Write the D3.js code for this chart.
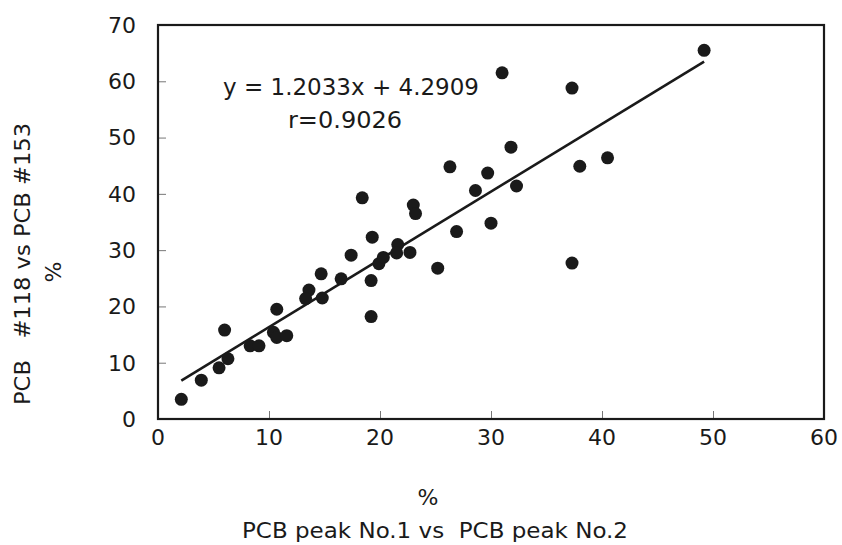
<!DOCTYPE html>
<html>
  <head>
    <title>PCB peak ratios</title>
    <meta charset="utf-8" />
    <style>
      body { margin: 0; background: #fff; }
      text { font-family: "DejaVu Sans", "Noto Sans", sans-serif; fill: #1a1a1a; }
    </style>
  </head>
  <body>
    <div id="plot"></div>

    <script src="https://d3js.org/d3.v7.min.js"></script>
    <script>
      // values
      const xVals = [2.1, 3.9, 5.5, 6.0, 6.3, 8.3, 9.1, 10.7, 10.4, 10.7, 11.6, 13.6, 13.3, 14.7, 14.8,
        16.5, 17.4, 18.4, 19.3, 19.2, 19.2, 19.9, 20.3, 21.6, 21.5, 22.7, 23.0, 23.2, 25.2, 26.9,
        26.3, 28.6, 31.0, 37.3, 49.2, 31.8, 29.7, 32.3, 38.0, 40.5, 30.0, 37.3];
      const yVals = [3.5, 6.9, 9.1, 15.8, 10.7, 13.0, 13.0, 19.5, 15.4, 14.5, 14.8, 22.9, 21.4, 25.8, 21.5,
        24.9, 29.1, 39.3, 32.3, 24.6, 18.2, 27.6, 28.7, 31.0, 29.5, 29.6, 38.0, 36.5, 26.8, 33.3,
        44.8, 40.6, 61.5, 58.8, 65.5, 48.3, 43.7, 41.4, 44.9, 46.4, 34.8, 27.7];
      const xTicks = [0, 10, 20, 30, 40, 50, 60];
      const yTicks = [0, 10, 20, 30, 40, 50, 60, 70];
      const slope = 1.2033, intercept = 4.2909;
      const fitRange = [2.1, 49.2];

      const data = xVals.map((x, i) => ({ x: x, y: yVals[i] }));

      const width = 842, height = 545;
      const margin = { top: 25, right: 18, bottom: 126, left: 158 };

      const svg = d3.select("#plot")
        .append("svg")
        .attr("width", width)
        .attr("height", height);

      const x = d3.scaleLinear()
        .domain([0, 60])
        .range([margin.left, width - margin.right]);

      const y = d3.scaleLinear()
        .domain([0, 70])
        .range([height - margin.bottom, margin.top]);

      // inner tick marks
      const xAxis = svg.append("g")
        .attr("transform", `translate(0, ${height - margin.bottom})`)
        .call(d3.axisBottom(x).tickValues(xTicks.slice(1, -1)).tickSize(-8).tickFormat(""));
      const yAxis = svg.append("g")
        .attr("transform", `translate(${margin.left}, 0)`)
        .call(d3.axisLeft(y).tickValues(yTicks.slice(1, -1)).tickSize(-8).tickFormat(""));
      [xAxis, yAxis].forEach(a => {
        a.select(".domain").remove();
        a.selectAll("line").attr("stroke", "#777").attr("stroke-width", 1);
      });

      // tick labels
      svg.append("g")
        .selectAll("text")
        .data(xTicks)
        .join("text")
        .attr("x", d => x(d))
        .attr("y", 445)
        .attr("text-anchor", "middle")
        .style("font-size", "22px")
        .text(d => d);

      svg.append("g")
        .selectAll("text")
        .data(yTicks)
        .join("text")
        .attr("x", 136)
        .attr("y", d => y(d))
        .attr("dy", "0.36em")
        .attr("text-anchor", "end")
        .style("font-size", "22px")
        .text(d => d);

      // plot frame
      svg.append("rect")
        .attr("x", x(0))
        .attr("y", y(70))
        .attr("width", x(60) - x(0))
        .attr("height", y(0) - y(70))
        .attr("fill", "none")
        .attr("stroke", "#1a1a1a")
        .attr("stroke-width", 2.2);

      // regression line
      svg.append("line")
        .attr("x1", x(fitRange[0]))
        .attr("y1", y(slope * fitRange[0] + intercept))
        .attr("x2", x(fitRange[1]))
        .attr("y2", y(slope * fitRange[1] + intercept))
        .attr("stroke", "#1a1a1a")
        .attr("stroke-width", 2.6);

      // points
      svg.append("g")
        .selectAll("circle")
        .data(data)
        .join("circle")
        .attr("cx", d => x(d.x))
        .attr("cy", d => y(d.y))
        .attr("r", 6.5)
        .style("fill", "#1a1a1a");

      // equation
      svg.append("text")
        .attr("x", 223)
        .attr("y", 95)
        .attr("textLength", 256)
        .attr("lengthAdjust", "spacingAndGlyphs")
        .style("font-size", "23px")
        .text("y = 1.2033x + 4.2909");
      svg.append("text")
        .attr("x", 288)
        .attr("y", 128)
        .attr("textLength", 114)
        .attr("lengthAdjust", "spacingAndGlyphs")
        .style("font-size", "23px")
        .text("r=0.9026");

      // axis titles
      svg.append("text")
        .attr("x", 428)
        .attr("y", 505)
        .attr("text-anchor", "middle")
        .style("font-size", "22px")
        .text("%");
      svg.append("text")
        .attr("x", 242)
        .attr("y", 538)
        .attr("textLength", 386)
        .attr("lengthAdjust", "spacingAndGlyphs")
        .style("font-size", "22px")
        .style("white-space", "pre")
        .text("PCB peak No.1 vs  PCB peak No.2");

      svg.append("text")
        .attr("transform", "translate(30, 405) rotate(-90)")
        .attr("textLength", 282)
        .attr("lengthAdjust", "spacingAndGlyphs")
        .style("font-size", "22px")
        .style("white-space", "pre")
        .text("PCB   #118 vs PCB #153");
      svg.append("text")
        .attr("transform", "translate(61, 272) rotate(-90)")
        .attr("text-anchor", "middle")
        .style("font-size", "22px")
        .text("%");
    </script>
  </body>
</html>
